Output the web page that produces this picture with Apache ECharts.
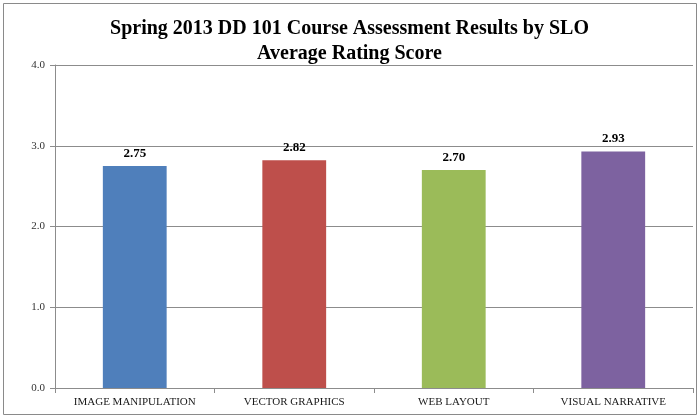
<!DOCTYPE html>
<html><head><meta charset="utf-8">
<script src="https://cdn.jsdelivr.net/npm/echarts@6/dist/echarts.min.js"></script>
<style>html,body{margin:0;padding:0;background:#fff}#c{width:699px;height:417px}</style>
</head><body><div id="c"></div>
<script>
const categories = ['IMAGE MANIPULATION', 'VECTOR GRAPHICS', 'WEB LAYOUT', 'VISUAL NARRATIVE'];
const scores = [2.75, 2.82, 2.70, 2.93];
const barColors = ['#4F7FBB', '#BE4F4B', '#9BBB59', '#7D62A0'];
const titleLines = ['Spring 2013 DD 101 Course Assessment Results by SLO', 'Average Rating Score'];

const chart = echarts.init(document.getElementById('c'), null, {renderer: 'canvas'});
const serif = '"Liberation Serif", "DejaVu Serif", serif';
chart.setOption({
  animation: false,
  backgroundColor: '#fff',
  title: {
    text: titleLines.join('\n'),
    left: 'center',
    top: 11,
    textStyle: {fontFamily: serif, fontWeight: 'bold', fontSize: 20, lineHeight: 25, color: '#000'}
  },
  graphic: [{
    type: 'rect', shape: {x: 3.5, y: 3.5, width: 693, height: 411},
    style: {fill: 'none', stroke: '#8a8a8a', lineWidth: 1}, silent: true, z: -1
  }],
  grid: {left: 55, right: 6, top: 65, bottom: 29, containLabel: false},
  xAxis: {
    type: 'category', data: categories,
    axisLine: {lineStyle: {color: '#8c8c8c'}},
    axisTick: {show: true, alignWithLabel: false, length: 5, lineStyle: {color: '#8c8c8c'}},
    axisLabel: {fontFamily: serif, fontSize: 11, color: '#1a1a1a', margin: 9}
  },
  yAxis: {
    type: 'value', min: 0, max: 4, interval: 1,
    axisLine: {show: true, lineStyle: {color: '#8c8c8c'}},
    axisTick: {show: true, length: 5, lineStyle: {color: '#8c8c8c'}},
    splitLine: {lineStyle: {color: '#8c8c8c'}},
    axisLabel: {fontFamily: serif, fontSize: 11, color: '#333', margin: 10,
      formatter: v => v.toFixed(1)}
  },
  series: [{
    type: 'bar',
    data: scores.map((v, i) => ({value: v, itemStyle: {color: barColors[i]}})),
    barWidth: '40%',
    label: {show: true, position: 'top', distance: 6, fontFamily: serif, fontWeight: 'bold',
      fontSize: 13, color: '#000', formatter: p => p.value.toFixed(2)}
  }]
});
</script></body></html>
